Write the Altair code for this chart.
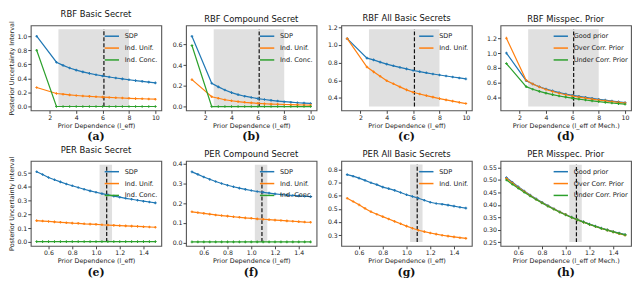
import altair as alt
import pandas as pd

# ---------------- data ----------------
x_rbf = [1, 2.5, 3, 3.5, 4, 4.5, 5, 5.5, 6, 6.5, 7, 7.5, 8, 8.5, 9, 9.5, 10]
x_per = [0.5, 0.55, 0.6, 0.65, 0.7, 0.75, 0.8, 0.85, 0.9, 0.95, 1.0,
         1.05, 1.1, 1.15, 1.2, 1.25, 1.3, 1.35, 1.4, 1.45, 1.5]

names_3 = ["SDP", "Ind. Unif.", "Ind. Conc."]
names_2 = ["SDP", "Ind. Unif."]
names_mis = ["Good prior", "Over Corr. Prior", "Under Corr. Prior"]

titles = ["RBF Basic Secret", "RBF Compound Secret", "RBF All Basic Secrets", "RBF Misspec. Prior",
          "PER Basic Secret", "PER Compound Secret", "PER All Basic Secrets", "PER Misspec. Prior"]
sub_labels = ["(a)", "(b)", "(c)", "(d)", "(e)", "(f)", "(g)", "(h)"]

# (a) RBF Basic Secret
a_sdp = [1.0, 0.63, 0.585, 0.548, 0.518, 0.493, 0.471, 0.452, 0.435, 0.42, 0.406, 0.393, 0.381, 0.369, 0.358, 0.347, 0.336]
a_unif = [0.27, 0.185, 0.175, 0.165, 0.157, 0.15, 0.144, 0.139, 0.134, 0.129, 0.125, 0.121, 0.117, 0.113, 0.11, 0.107, 0.104]
a_conc = [0.8, 0.0, 0.0, 0.0, 0.0, 0.0, 0.0, 0.0, 0.0, 0.0, 0.0, 0.0, 0.0, 0.0, 0.0, 0.0, 0.0]
# (b) RBF Compound Secret
b_sdp = [0.68, 0.225, 0.19, 0.16, 0.135, 0.115, 0.1, 0.088, 0.077, 0.068, 0.06, 0.053, 0.047, 0.042, 0.037, 0.033, 0.03]
b_unif = [0.26, 0.095, 0.08, 0.066, 0.056, 0.048, 0.041, 0.036, 0.031, 0.027, 0.024, 0.022, 0.02, 0.018, 0.016, 0.015, 0.014]
b_conc = [0.59, 0.0, 0.0, 0.0, 0.0, 0.0, 0.0, 0.0, 0.0, 0.0, 0.0, 0.0, 0.0, 0.0, 0.0, 0.0, 0.0]
# (c) RBF All Basic Secrets
c_sdp = [1.07, 0.85, 0.83, 0.805, 0.782, 0.763, 0.745, 0.728, 0.71, 0.697, 0.684, 0.671, 0.659, 0.648, 0.637, 0.626, 0.615]
c_unif = [1.07, 0.75, 0.695, 0.645, 0.595, 0.56, 0.525, 0.492, 0.465, 0.445, 0.427, 0.41, 0.393, 0.378, 0.364, 0.35, 0.337]
# (d) RBF Misspec. Prior
d_good = [1.0, 0.63, 0.585, 0.548, 0.518, 0.493, 0.471, 0.452, 0.435, 0.42, 0.406, 0.393, 0.381, 0.369, 0.358, 0.347, 0.336]
d_over = [1.2, 0.635, 0.585, 0.545, 0.512, 0.485, 0.462, 0.442, 0.425, 0.41, 0.396, 0.383, 0.371, 0.36, 0.35, 0.34, 0.331]
d_under = [0.86, 0.55, 0.515, 0.487, 0.463, 0.443, 0.425, 0.41, 0.396, 0.383, 0.371, 0.36, 0.35, 0.34, 0.331, 0.323, 0.315]
# (e) PER Basic Secret
e_sdp = [0.51, 0.49, 0.468, 0.452, 0.436, 0.421, 0.408, 0.395, 0.383, 0.371, 0.361, 0.351, 0.342, 0.333, 0.325, 0.317, 0.31, 0.303, 0.296, 0.29, 0.284]
e_unif = [0.155, 0.152, 0.149, 0.146, 0.143, 0.14, 0.137, 0.135, 0.132, 0.13, 0.128, 0.125, 0.123, 0.121, 0.119, 0.117, 0.115, 0.113, 0.111, 0.109, 0.107]
e_conc = [0.003, 0.003, 0.003, 0.003, 0.003, 0.003, 0.003, 0.003, 0.003, 0.003, 0.003,
          0.003, 0.003, 0.003, 0.003, 0.003, 0.003, 0.003, 0.003, 0.003, 0.003]
# (f) PER Compound Secret
f_sdp = [0.36, 0.347, 0.334, 0.322, 0.311, 0.301, 0.292, 0.284, 0.277, 0.271, 0.265, 0.26, 0.256, 0.252, 0.248, 0.245, 0.242, 0.24, 0.238, 0.236, 0.234]
f_unif = [0.157, 0.153, 0.149, 0.145, 0.141, 0.138, 0.135, 0.132, 0.129, 0.126, 0.124, 0.121, 0.119, 0.117, 0.115, 0.113, 0.111, 0.109, 0.107, 0.105, 0.104]
f_conc = [0.004, 0.004, 0.004, 0.004, 0.004, 0.004, 0.004, 0.004, 0.004, 0.004, 0.004,
          0.004, 0.004, 0.004, 0.004, 0.004, 0.004, 0.004, 0.004, 0.004, 0.004]
# (g) PER All Basic Secrets
g_sdp = [0.76, 0.748, 0.733, 0.716, 0.698, 0.684, 0.665, 0.653, 0.64, 0.624, 0.607, 0.594, 0.58, 0.565, 0.55, 0.54, 0.535, 0.528, 0.52, 0.512, 0.505]
g_unif = [0.58, 0.555, 0.53, 0.503, 0.478, 0.458, 0.44, 0.422, 0.404, 0.386, 0.368, 0.352, 0.337, 0.326, 0.316, 0.307, 0.299, 0.292, 0.286, 0.28, 0.275]
# (h) PER Misspec. Prior
h_good = [0.51, 0.491, 0.473, 0.456, 0.44, 0.425, 0.411, 0.398, 0.385, 0.373, 0.362, 0.351, 0.341, 0.332, 0.323, 0.315, 0.307, 0.3, 0.293, 0.287, 0.281]
h_over = [0.506, 0.488, 0.47, 0.454, 0.438, 0.423, 0.409, 0.396, 0.384, 0.372, 0.361, 0.35, 0.34, 0.331, 0.322, 0.314, 0.306, 0.299, 0.292, 0.285, 0.279]
h_under = [0.5, 0.483, 0.467, 0.451, 0.436, 0.422, 0.408, 0.395, 0.383, 0.371, 0.36, 0.35, 0.34, 0.331, 0.322, 0.314, 0.306, 0.299, 0.292, 0.286, 0.28]

# shaded prior-dependence band (x range), dashed line position
band_x_rbf = [2.65, 8.0]
band_x_per = [1.03, 1.135]
vline_rbf = 6.1
vline_per = 1.09
# band y-extent and y-axis range per panel
band_y = [[0.0, 1.1], [0.0, 0.748], [0.303, 1.177], [0.283, 1.32],
          [0.0, 0.561], [0.004, 0.396], [0.248, 0.836], [0.251, 0.561]]
y_dom = [[-0.055, 1.155], [-0.037, 0.785], [0.26, 1.22], [0.232, 1.372],
         [-0.028, 0.589], [-0.016, 0.416], [0.218, 0.865], [0.236, 0.577]]
x_dom_rbf = [0.55, 10.45]
x_dom_per = [0.45, 1.55]

y_ticks = [[0.0, 0.2, 0.4, 0.6, 0.8, 1.0], [0.0, 0.2, 0.4, 0.6], [0.4, 0.6, 0.8, 1.0, 1.2],
           [0.4, 0.6, 0.8, 1.0, 1.2], [0.0, 0.1, 0.2, 0.3, 0.4, 0.5], [0.0, 0.1, 0.2, 0.3, 0.4],
           [0.3, 0.4, 0.5, 0.6, 0.7, 0.8], [0.25, 0.3, 0.35, 0.4, 0.45, 0.5, 0.55]]
x_ticks_rbf = [2, 4, 6, 8, 10]
x_ticks_per = [0.6, 0.8, 1.0, 1.2, 1.4]

# ---------------- styling ----------------
W, H = 132, 86
COLORS = ["#1f77b4", "#ff7f0e", "#2ca02c"]
XT = "Prior Dependence (l_eff)"
XT_M = "Prior Dependence (l_eff of Mech.)"
YT = "Posterior Uncertainty Interval"

panels_spec = [
    (x_rbf, names_3, [a_sdp, a_unif, a_conc], XT, True, ".1f"),
    (x_rbf, names_3, [b_sdp, b_unif, b_conc], XT, False, ".1f"),
    (x_rbf, names_2, [c_sdp, c_unif], XT, False, ".1f"),
    (x_rbf, names_mis, [d_good, d_over, d_under], XT_M, False, ".1f"),
    (x_per, names_3, [e_sdp, e_unif, e_conc], XT, True, ".1f"),
    (x_per, names_3, [f_sdp, f_unif, f_conc], XT, False, ".1f"),
    (x_per, names_2, [g_sdp, g_unif], XT, False, ".1f"),
    (x_per, names_mis, [h_good, h_over, h_under], XT_M, False, ".2f"),
]

charts = []
for i, (xs, names, series, xtitle, show_ytitle, yfmt) in enumerate(panels_spec):
    is_rbf = i < 4
    xdom = x_dom_rbf if is_rbf else x_dom_per
    xticks = x_ticks_rbf if is_rbf else x_ticks_per
    xfmt = "d" if is_rbf else ".1f"
    bx = band_x_rbf if is_rbf else band_x_per
    vl = vline_rbf if is_rbf else vline_per
    by = band_y[i]

    rows = []
    for k, (nm, vals) in enumerate(zip(names, series)):
        for j, (xv, yv) in enumerate(zip(xs, vals)):
            rows.append({"x": xv, "y": yv, "series": nm, "k": k, "j": j})
    df = pd.DataFrame(rows)

    xscale = alt.Scale(domain=xdom, nice=False, zero=False)
    yscale = alt.Scale(domain=y_dom[i], nice=False, zero=False)
    xaxis = alt.Axis(title=xtitle, values=xticks, format=xfmt, labelOverlap=False)
    yaxis = alt.Axis(title=YT if show_ytitle else None, values=y_ticks[i], format=yfmt,
                     labelOverlap=False)

    band_df = pd.DataFrame({"x0": [bx[0]], "x1": [bx[1]], "y0": [by[0]], "y1": [by[1]]})
    band = alt.Chart(band_df).mark_rect(color="#e0e0e0").encode(
        x=alt.X("x0:Q", scale=xscale, axis=xaxis),
        x2="x1:Q",
        y=alt.Y("y0:Q", scale=yscale, axis=yaxis),
        y2="y1:Q",
    )
    rule_df = pd.DataFrame({"x": [vl], "y0": [by[0]], "y1": [by[1]]})
    rule = alt.Chart(rule_df).mark_rule(color="#111", strokeDash=[4, 2], strokeWidth=1.2).encode(
        x=alt.X("x:Q", scale=xscale, axis=xaxis),
        y=alt.Y("y0:Q", scale=yscale, axis=yaxis),
        y2="y1:Q",
    )
    lines = alt.Chart(df).mark_line(
        strokeWidth=1.2,
        point=alt.OverlayMarkDef(shape="cross", size=7, filled=True),
    ).encode(
        x=alt.X("x:Q", scale=xscale, axis=xaxis),
        y=alt.Y("y:Q", scale=yscale, axis=yaxis),
        color=alt.Color(
            "series:N",
            scale=alt.Scale(domain=names, range=COLORS[:len(names)]),
            sort=names,
            legend=alt.Legend(
                orient="top-right", title=None, symbolType="stroke",
                symbolSize=210, symbolStrokeWidth=1.5, labelFontSize=6.6,
                labelFont="DejaVu Sans", rowPadding=-4, offset=3, padding=0,
                labelOffset=5, labelColor="#222",
            ),
        ),
        order=alt.Order("j:Q"),
        detail="k:N",
    )
    lab = alt.Chart(pd.DataFrame({"t": [sub_labels[i]]})).mark_text(
        font="DejaVu Serif", fontWeight="bold", fontSize=11, baseline="middle", align="center", color="#111"
    ).encode(text="t:N", x=alt.value(W / 2), y=alt.value(H + 27))

    panel = alt.layer(band, rule, lines, lab).properties(
        width=W, height=H,
        title=alt.TitleParams(titles[i], anchor="middle"),
    )
    charts.append(panel)

chart = alt.concat(*charts, columns=4, spacing={"row": 2, "column": 9}, align="each").resolve_scale(
    color="independent", x="independent", y="independent"
).resolve_legend(color="independent").properties(padding=0).configure_view(
    stroke="#555", strokeWidth=1.1
).configure_axis(
    labelFont="DejaVu Sans", titleFont="DejaVu Sans", labelFontSize=6.3, titleFontSize=6.5,
    titleFontWeight="normal", grid=False, domain=False, tickSize=3, tickColor="#444",
    labelColor="#222", titleColor="#222", labelPadding=1, titlePadding=2, labelOverlap=False,
    labelFlush=False,
).configure_title(
    font="DejaVu Sans", fontSize=8.5, fontWeight="normal", color="#111", offset=2
)

chart.save("out.html", embed_options={"renderer": "svg", "actions": False})
